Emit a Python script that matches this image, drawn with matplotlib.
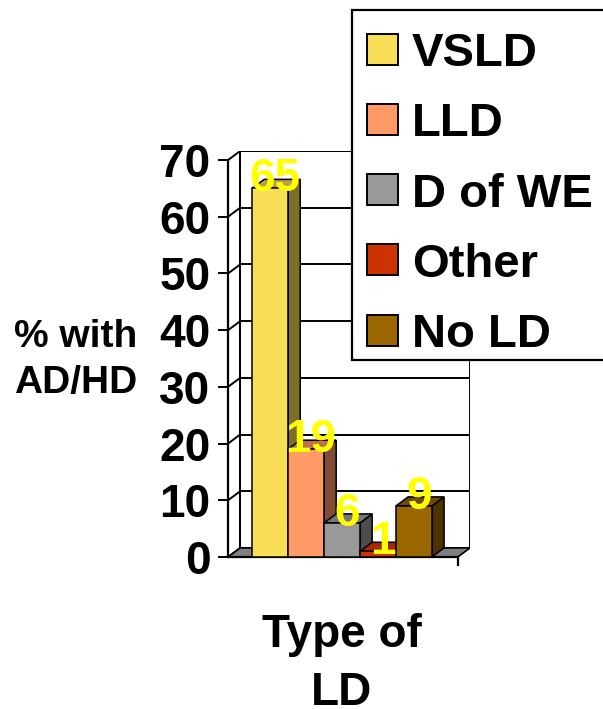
import matplotlib
matplotlib.use("Agg")
import matplotlib.pyplot as plt
from matplotlib.patches import Polygon, Rectangle

plt.rcParams['font.family'] = ['Liberation Sans', 'DejaVu Sans']
plt.rcParams['font.weight'] = 'bold'

# ---- data ----
categories = ["VSLD", "LLD", "D of WE", "Other", "No LD"]
values = [65, 19, 6, 1, 9]
front_colors = ["#F8DE57", "#FF9966", "#999999", "#CC3300", "#996600"]
side_colors = ["#7C6E2B", "#804C33", "#4C4C4C", "#661900", "#4C3300"]
top_colors = ["#B8A248", "#C0704C", "#777777", "#A52A00", "#704A00"]
yticks = [0, 10, 20, 30, 40, 50, 60, 70]
ylabel = "% with\nAD/HD"
xlabel = "Type of\nLD"

W, H = 603, 709
fig = plt.figure(figsize=(W / 100, H / 100), dpi=100)

# geometry (data units)
x0, x1 = -0.667, 5.72      # front floor edge
dx, dy = 0.34, 1.6          # depth offset
ymax = 70

ax = fig.add_axes([228 / W, 152 / H, 242 / W, 406 / H])
ax.set_xlim(x0, x1 + dx)
ax.set_ylim(0, ymax + dy)

# walls
back = Rectangle((x0 + dx, dy), x1 - x0, ymax, facecolor="white",
                 edgecolor="black", lw=1.4, zorder=1)
ax.add_patch(back)
for v in yticks:
    ax.plot([x0 + dx, x1 + dx], [v + dy, v + dy], color="black", lw=1.4, zorder=1.1)
    ax.plot([x0, x0 + dx], [v, v + dy], color="black", lw=1.4, zorder=1.1)
ax.plot([x0 + dx, x0 + dx], [dy, ymax + dy], color="black", lw=1.4, zorder=1.1)

# floor
floor = Polygon([(x0, 0), (x1, 0), (x1 + dx, dy), (x0 + dx, dy)], closed=True,
                facecolor="#808080", edgecolor="black", lw=1.2, zorder=1.2)
ax.add_patch(floor)
ax.plot([x0, x1], [0, 0], color="black", lw=1.6, zorder=1.3, clip_on=False)
ax.plot([x1, x1], [0, -1.4], color="black", lw=1.6, zorder=1.3, clip_on=False)

# bars
for i, (v, fc, sc, tc) in enumerate(zip(values, front_colors, side_colors, top_colors)):
    z = 2 + i
    side = Polygon([(i + 1, 0), (i + 1, v), (i + 1 + dx, v + dy), (i + 1 + dx, dy)],
                   closed=True, facecolor=sc, edgecolor="black", lw=1.1, zorder=z)
    top = Polygon([(i, v), (i + 1, v), (i + 1 + dx, v + dy), (i + dx, v + dy)],
                  closed=True, facecolor=tc, edgecolor="black", lw=1.1, zorder=z)
    ax.add_patch(side)
    ax.add_patch(top)
    ax.bar(i + 0.5, v, width=1.0, color=fc, edgecolor="black", lw=1.1, zorder=z + 0.5)

for i, v in enumerate(values):
    ax.text(i + 0.64, v + 1.6, str(v), ha="center", va="center", color="#FFFF00",
            fontsize=33, fontweight="bold", zorder=20, clip_on=False)

# axes styling
for s in ["top", "right", "bottom"]:
    ax.spines[s].set_visible(False)
ax.spines["left"].set_bounds(0, ymax)
ax.spines["left"].set_linewidth(1.6)
ax.spines["left"].set_zorder(1.3)
ax.set_xticks([])
ax.set_yticks(yticks)
ax.set_yticklabels([str(t) for t in yticks])
ax.tick_params(axis="y", direction="out", length=7.2, width=1.4, pad=5.5,
               labelsize=33)
for lab in ax.get_yticklabels():
    lab.set_fontweight("bold")

# axis titles
fig.text(76 / W, 1 - 360 / H, ylabel, ha="center", va="center", fontsize=28,
         fontweight="bold", linespacing=1.36, multialignment="center")
fig.text(342 / W, 1 - 664 / H, xlabel, ha="center", va="center", fontsize=33,
         fontweight="bold", linespacing=1.42, multialignment="center")

# legend (manual, figure pixel layout)
def fx(px):
    return px / W

def fy(py):
    return 1 - py / H

frame = Rectangle((fx(352), fy(360)), fx(620) - fx(352), fy(10) - fy(360),
                  transform=fig.transFigure, facecolor="white", edgecolor="black",
                  lw=1.6, zorder=30, clip_on=False)
fig.add_artist(frame)
for i, (lab, fc) in enumerate(zip(categories, front_colors)):
    cy = 49 + i * 70.3
    sq = Rectangle((fx(367), fy(cy + 15.5)), fx(398) - fx(367), fy(cy - 15.5) - fy(cy + 15.5),
                   transform=fig.transFigure, facecolor=fc, edgecolor="black",
                   lw=1.4, zorder=31)
    fig.add_artist(sq)
    fig.text(fx(412), fy(cy + 17), lab, ha="left", va="baseline", fontsize=34,
             fontweight="bold", zorder=32)

fig.savefig("out.png", dpi=100)
